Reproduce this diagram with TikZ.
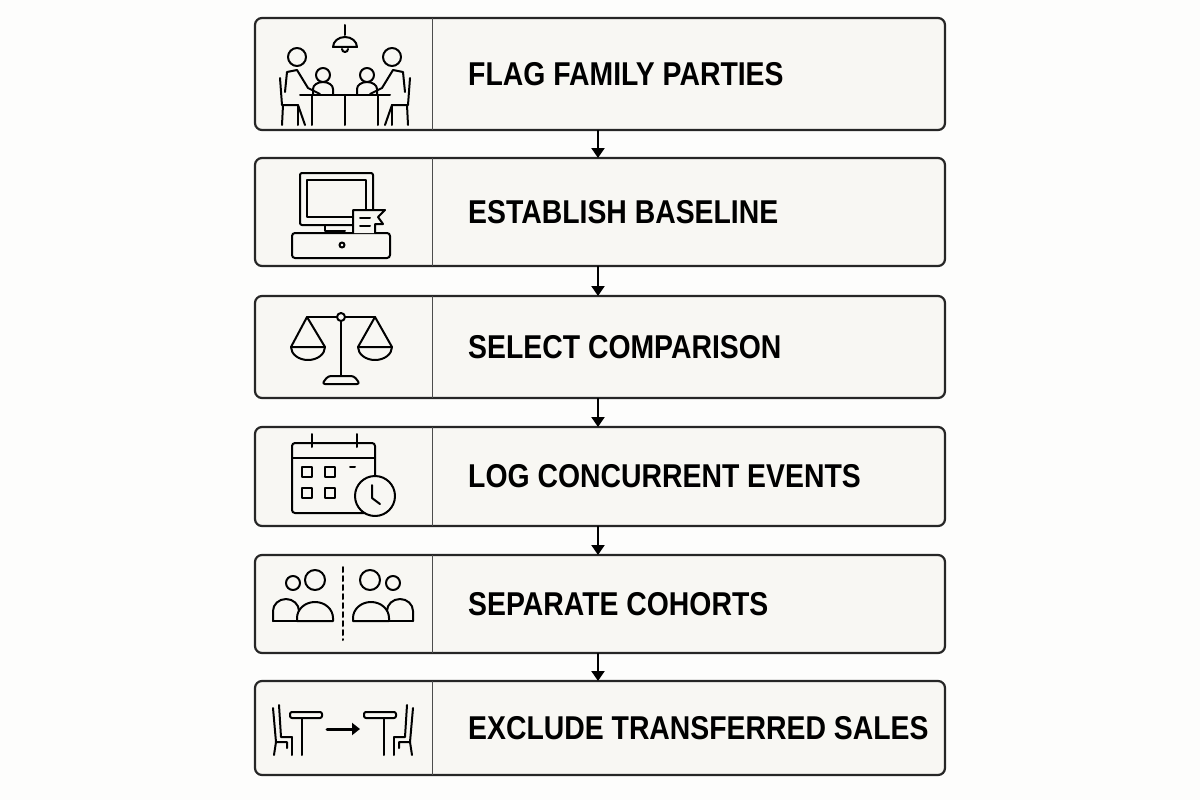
\documentclass[tikz,border=0pt]{standalone}
\usepackage{fontspec}
\setmainfont{Liberation Sans}[FakeStretch=0.86]
\usetikzlibrary{arrows.meta}
\begin{document}
\begin{tikzpicture}[x=1pt,y=-1pt,
    stepbox/.style={draw=black!85,line width=2.2pt,rounded corners=7pt,fill=boxfill},
    icon/.style={line width=2pt,line cap=round,line join=round},
    flow/.style={line width=2.2pt,-{Triangle[length=10pt,width=13pt]}},
    label/.style={anchor=west,font=\fontsize{33}{33}\selectfont\bfseries,inner sep=0pt}]
  \definecolor{boxfill}{HTML}{F8F7F3}
  \definecolor{bgfill}{HTML}{FDFDFC}
  \fill[bgfill] (0,0) rectangle (1200,800);
  \useasboundingbox (0,0) rectangle (1200,800);

  % Boxes: name / top / bottom / text
  \foreach \name/\top/\bot/\txt in {b1/18/130/FLAG FAMILY PARTIES,
      b2/158/266/ESTABLISH BASELINE, b3/296/398/SELECT COMPARISON,
      b4/427/526/LOG CONCURRENT EVENTS, b5/555/653/SEPARATE COHORTS,
      b6/681/775/EXCLUDE TRANSFERRED SALES} {
    \draw[stepbox] (255,\top) rectangle (945,\bot);
    \draw[line width=1pt,black!70] (432,\top) -- (432,\bot);
    \coordinate (\name-n) at (598,\top);
    \coordinate (\name-s) at (598,\bot);
    \node[label] (\name-t) at (468,{(\top+\bot)/2}) {\txt};
  }

  % Connectors
  \foreach \a/\b in {b1/b2,b2/b3,b3/b4,b4/b5,b5/b6}
    \draw[flow] (\a-s) -- (\b-n);

  % Icon 1: family at a table
  \begin{scope}[icon]
    \draw (345,25) -- (345,35);
    \draw (333,47) arc (180:360:12 and 10) -- cycle;
    \draw (342,49) arc (180:0:3);
    \draw (297,57) circle (9);  \draw (392,57) circle (9);
    \draw (323,75) circle (7);  \draw (367,75) circle (7);
    \draw (313,94) -- (313,89) arc (180:360:10 and 7) -- (333,94);
    \draw (357,94) -- (357,89) arc (180:360:10 and 7) -- (377,94);
    \draw (300,95) -- (390,95);
    \foreach \x in {312,345,378} \draw (\x,95) -- (\x,125);
    \draw (285,92) -- (287,72) -- (297,70) -- (308,88) -- (320,94);
    \draw (405,92) -- (403,72) -- (393,70) -- (382,88) -- (370,94);
    \draw (280,78) -- (282,105) -- (298,105) -- (305,125);
    \draw (410,78) -- (408,105) -- (392,105) -- (385,125);
    \draw (283,105) -- (282,125);  \draw (407,105) -- (408,125);
    \draw (298,105) -- (298,125);  \draw (392,105) -- (392,125);
  \end{scope}

  % Icon 2: till with receipt
  \begin{scope}[icon]
    \draw[rounded corners=2pt] (300,173) rectangle (373,225);
    \draw (307,180) rectangle (366,217);
    \draw (325,225) -- (325,231) -- (345,231);
    \draw[rounded corners=3pt] (292,233) rectangle (390,258);
    \draw (342,245) circle (2.5);
    \draw[fill=boxfill] (353,233) -- (353,210) -- (385,210) -- (378,217) -- (383,224) -- (375,224) -- (375,233);
    \draw (360,218) -- (370,218);  \draw (360,226) -- (370,226);
  \end{scope}

  % Icon 3: balance scale
  \begin{scope}[icon]
    \draw (341,317) circle (4);
    \draw (341,321) -- (341,375);
    \draw (307,317) -- (337,317);  \draw (345,317) -- (375,317);
    \draw (307,317) -- (291,347) -- (325,347) -- cycle;
    \draw (291,347) arc (180:0:17 and 13);
    \draw (375,317) -- (358,347) -- (392,347) -- cycle;
    \draw (358,347) arc (180:0:17 and 13);
    \draw[rounded corners=3pt] (322,384) -- (328,376) -- (354,376) -- (360,384) -- cycle;
  \end{scope}

  % Icon 4: calendar with clock
  \begin{scope}[icon]
    \draw[rounded corners=3pt] (292,443) rectangle (375,513);
    \draw (293,458) -- (375,458);
    \draw (312,434) -- (312,447);  \draw (357,434) -- (357,447);
    \foreach \x in {307,330} \foreach \y in {472,493}
      \draw (\x-5,\y-5) rectangle (\x+5,\y+5);
    \draw (350,467) -- (355,467);
    \draw[fill=boxfill] (375,496) circle (20);
    \draw (372,485) -- (372,498) -- (380,504);
  \end{scope}

  % Icon 5: two cohorts
  \begin{scope}[icon]
    \draw (293,583) circle (7);  \draw (315,580) circle (10);
    \draw (273,621) -- (273,611) arc (180:360:13 and 12);
    \draw[fill=boxfill] (297,621) -- (297,618) arc (180:360:18 and 16) -- (333,621) -- cycle;
    \draw (273,621) -- (297,621);
    \draw (370,580) circle (10);  \draw (393,583) circle (7);
    \draw (413,621) -- (413,611) arc (0:-180:13 and 12);
    \draw[fill=boxfill] (389,621) -- (389,618) arc (0:-180:18 and 16) -- (353,621) -- cycle;
    \draw (389,621) -- (413,621);
    \draw[dash pattern=on 5pt off 4pt] (343,567) -- (343,640);
  \end{scope}

  % Icon 6: table moved
  \begin{scope}[icon]
    \draw (273,708) -- (276,742) -- (287,742) -- (287,748);
    \draw (279,705) -- (281,737) -- (292,737);
    \draw (276,742) -- (274,755);  \draw (292,737) -- (292,755);
    \draw[rounded corners=2pt] (290,712) rectangle (322,718);
    \draw (302,718) -- (302,755);
    \draw (413,708) -- (410,742) -- (399,742) -- (399,748);
    \draw (407,705) -- (405,737) -- (394,737);
    \draw (410,742) -- (412,755);  \draw (394,737) -- (394,755);
    \draw[rounded corners=2pt] (364,712) rectangle (396,718);
    \draw (384,718) -- (384,755);
    \draw[line width=3pt,-{Triangle[length=8pt,width=12pt]}] (327,729) -- (360,729);
  \end{scope}
\end{tikzpicture}
\end{document}
